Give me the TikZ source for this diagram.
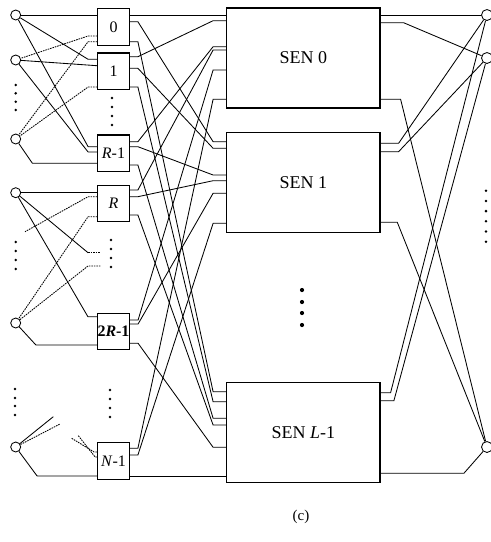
\documentclass[tikz,border=0pt]{standalone}
\usepackage{fontspec}
\setmainfont{Liberation Serif}
\usetikzlibrary{calc}
\newcommand\inw[4][wire]{\draw[#1] (#3.west |- 0,#4) -- ++(-9,0) -- (#2);}
\newcommand\mw[4]{\draw[wire] (#1.east |- 0,#2) -- ++(8,0) -- ($(#3.west |- 0,#4)+(-13,0)$) -- (#3.west |- 0,#4);}
\newcommand\ow[4]{\draw[wire] (#1.east |- 0,#2) -- ++(#3,0) -- (#4);}
\begin{document}
\begin{tikzpicture}[x=1pt,y=-1pt,
  wire/.style={line width=0.85pt},
  dotw/.style={line width=0.85pt, dash pattern=on 1.6pt off 0.9pt},
  inc/.style={circle, draw, line width=0.85pt, minimum size=10pt, inner sep=0pt},
  outc/.style={circle, draw, line width=0.85pt, minimum size=11pt, inner sep=0pt},
  sw/.style={draw, line width=1.2pt, minimum width=31.6pt, minimum height=36.7pt, inner sep=0pt, font=\fontsize{16}{18}\selectfont},
  sen/.style={draw, line width=1.2pt, minimum width=153.3pt, minimum height=100pt, inner sep=0pt, font=\fontsize{18}{21}\selectfont},
  sdot/.style={circle, fill, inner sep=0pt, minimum size=2.8pt},
  bdot/.style={circle, fill, inner sep=0pt, minimum size=4.2pt},
  ]
\useasboundingbox (0,0) rectangle (491,542);
% input circles
\node[inc] (c0) at (15.7,15) {};
\node[inc] (c1) at (15.7,60) {};
\node[inc] (c2) at (15.7,139) {};
\node[inc] (c3) at (15.7,192.7) {};
\node[inc] (c4) at (15.7,323) {};
\node[inc] (c5) at (15.7,447) {};
% small switches
\node[sw] (b0) at (113.5,26.85) {0};
\node[sw] (b1) at (113.5,71.35) {1};
\node[sw] (b2) at (113.5,153.35) {\textit{R}-1};
\node[sw] (b3) at (113.5,203.5) {\textit{R}};
\node[sw] (b4) at (113.5,331.5) {\bfseries 2\textit{R}-1};
\node[sw] (b5) at (113.5,461) {\textit{N}-1};
% SENs
\node[sen] (s0) at (303.35,58) {SEN 0};
\node[sen] (s1) at (303.35,182.5) {SEN 1};
\node[sen] (s2) at (303.35,432.2) {SEN \textit{L}-1};
% output circles
\node[outc] (r0) at (487,15) {};
\node[outc] (r1) at (487,58) {};
\node[outc] (r2) at (487,447) {};
% dots
\foreach \y [count=\i] in {85,93.3,101.7,110} \node[sdot] (la\i) at (15.7,\y) {};
\foreach \y [count=\i] in {98,107,116,125} \node[sdot] (ba\i) at (112,\y) {};
\foreach \y [count=\i] in {242,251,260,269} \node[sdot] (lb\i) at (15.7,\y) {};
\foreach \y [count=\i] in {240,249,258,267} \node[sdot] (bb\i) at (111,\y) {};
\foreach \y [count=\i] in {389,398,406,415} \node[sdot] (lc\i) at (15,\y) {};
\foreach \y [count=\i] in {390,399,408,417} \node[sdot] (bc\i) at (110,\y) {};
\foreach \y [count=\i] in {290,302,313,325} \node[bdot] (sd\i) at (302,\y) {};
\foreach \y [count=\i] in {190.7,200.9,211.1,221.3,231.5,241.7} \node[sdot] (rd\i) at (486,\y) {};
% group 1 inputs
\draw[wire] (c0) -- (b0.west |- c0);
\inw{c0}{b1}{59.3}
\inw{c0}{b2}{146.7}
\inw[dotw]{c1}{b0}{36}
\draw[wire] (c1) -- (b1.west |- 0,65.7);
\inw{c1}{b2}{152}
\inw[dotw]{c2}{b0}{41.7}
\inw[dotw]{c2}{b1}{87}
\draw[wire] (b2.west |- 0,163.3) -- ++(-64.7,0) -- (c2);
% group 2 inputs
\coordinate (d1) at (100,252.7);
\coordinate (d2) at (101,266);
\coordinate (p1) at (25,231.7);
\draw[wire] (c3) -- (b3.west |- c3);
\draw[wire] (c3) -- ($(d1)+(-12,0)$);
\draw[dotw] ($(d1)+(-12,0)$) -- (d1);
\inw{c3}{b4}{316.7}
\inw[dotw]{c4}{b3}{216.7}
\draw[dotw] (c4) -- ($(d2)+(-13,0)$) -- (d2);
\draw[wire] (b4.west |- 0,345) -- ++(-61,0) -- (c4);
\draw[dotw] (b3.west |- 0,196.7) -- ++(-9,0) -- (p1);
% group 3 inputs
\coordinate (q1) at (53.3,416.7);
\coordinate (q2) at (60,424);
\coordinate (q3) at (71.7,438.3);
\coordinate (q4) at (78.3,435.7);
\draw[wire] (b5.west |- 0,476) -- ++(-60,0) -- (c5);
\draw[wire] (c5) -- (q1);
\draw[dotw] (c5) -- (q2);
\draw[dotw] (q3) -- ($(b5.west |- 0,452)+(-3,0)$) -- (b5.west |- 0,452);
\draw[dotw] (q4) -- ($(b5.west |- 0,457)+(-2,0)$) -- (b5.west |- 0,457);
% switches to SENs
\draw[wire] (b0.east |- 0,15) -- (s0.west |- 0,15);
\mw{b0}{21.7}{s1}{141.7}
\mw{b0}{41.7}{s2}{391.7}
\mw{b1}{56.7}{s0}{20.7}
\mw{b1}{68.3}{s1}{148.3}
\mw{b1}{87}{s2}{401.7}
\mw{b2}{141.7}{s0}{46.7}
\mw{b2}{146.7}{s1}{175}
\mw{b2}{165}{s2}{418.3}
\mw{b3}{190}{s0}{50}
\mw{b3}{196.7}{s1}{180.7}
\mw{b3}{215}{s2}{425}
\mw{b4}{320}{s0}{70}
\mw{b4}{324}{s1}{193.3}
\mw{b4}{343.3}{s2}{447.3}
\mw{b5}{448.3}{s0}{99.3}
\mw{b5}{455}{s1}{223.3}
\draw[wire] (b5.east |- 0,476) -- (s2.west |- 0,476);
% SENs to outputs
\draw[wire] (s0.east |- 0,15) -- (r0);
\ow{s0}{22.7}{23}{r1}
\ow{s0}{99.3}{20}{r2}
\ow{s1}{143.3}{18}{r0}
\ow{s1}{151.7}{18}{r1}
\ow{s1}{222.3}{16.7}{r2}
\ow{s2}{392.7}{10}{r0}
\ow{s2}{400.7}{13.3}{r1}
\ow{s2}{473.3}{83.3}{r2}
% caption
\node[font=\fontsize{15}{17}\selectfont] (cap) at (301,517) {(c)};
\end{tikzpicture}
\end{document}
